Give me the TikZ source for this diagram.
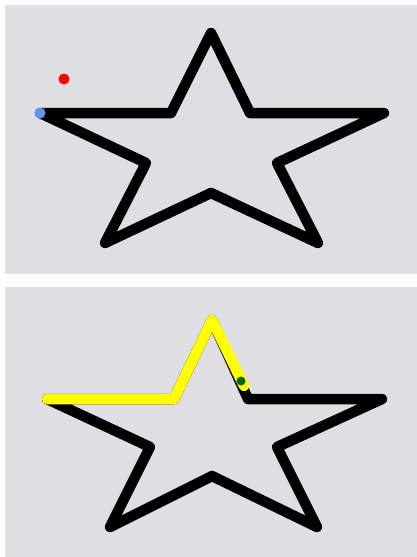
\documentclass[tikz,border=0pt]{standalone}
\begin{document}
\begin{tikzpicture}[x=1pt,y=-1pt,
  panel/.style={fill=panelgray,draw=none},
  starline/.style={draw=black,line width=10.5pt,line join=round,line cap=round},
  trail/.style={draw=trailyellow,line width=10.5pt,line join=round,line cap=round}]
\definecolor{panelgray}{HTML}{DFDFE3}
\definecolor{trailyellow}{HTML}{FFFF00}
\definecolor{dotblue}{HTML}{6495ED}
\definecolor{dotgreen}{HTML}{006400}
\useasboundingbox (0,0) rectangle (417,557);
\fill[white] (0,0) rectangle (417,557);
% panels
\path[panel] (5,5) rectangle (417,274);
\path[panel] (5,287) rectangle (417,557);
% star 1
\coordinate (aT) at (211,33);
\coordinate (aIUR) at (250,113);
\coordinate (aR) at (384,113);
\coordinate (aIR) at (277,163);
\coordinate (aBR) at (318,243);
\coordinate (aIB) at (211,193);
\coordinate (aBL) at (105,243);
\coordinate (aIL) at (146,163);
\coordinate (aL) at (40,113);
\coordinate (aIUL) at (171,113);
\draw[starline] (aT) -- (aIUR) -- (aR) -- (aIR) -- (aBR) -- (aIB) -- (aBL) -- (aIL) -- (aL) -- (aIUL) -- cycle;
\fill[red] (64,79) circle (5.5pt);
\fill[dotblue] (aL) circle (5.5pt);
% star 2
\coordinate (bT) at (212,320);
\coordinate (bIUR) at (248,399);
\coordinate (bR) at (382,399);
\coordinate (bIR) at (277,447);
\coordinate (bBR) at (317,527);
\coordinate (bIB) at (212,476);
\coordinate (bBL) at (110,527);
\coordinate (bIL) at (150,447);
\coordinate (bL) at (47,399);
\coordinate (bIUL) at (174,399);
\coordinate (bEnd) at (244,386);
\draw[starline] (bT) -- (bIUR) -- (bR) -- (bIR) -- (bBR) -- (bIB) -- (bBL) -- (bIL) -- (bL) -- (bIUL) -- cycle;
\draw[trail] (bL) -- (bIUL) -- (bT) -- (bEnd);
\fill[dotgreen] (241,381) circle (4.5pt);
\end{tikzpicture}
\end{document}
